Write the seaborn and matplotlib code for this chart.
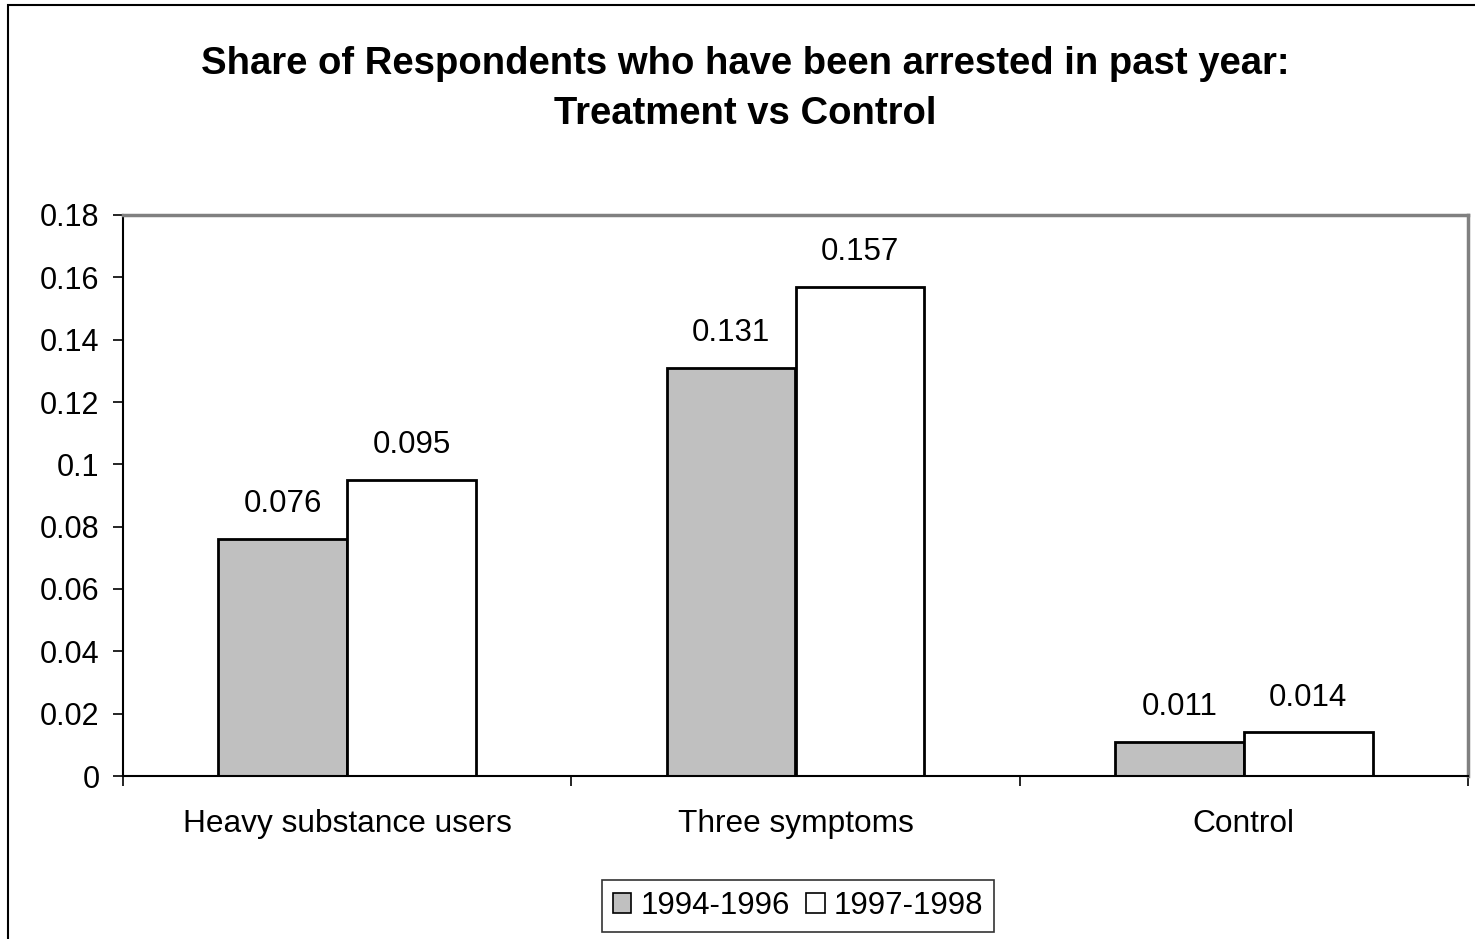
#!/usr/bin/env python3
"""
Bar chart: share of respondents arrested in past year, treatment vs control
"""

import pandas as pd
import matplotlib
matplotlib.use('Agg')
import matplotlib.pyplot as plt
from matplotlib.patches import Rectangle
import seaborn as sns

# Data
groups = ['Heavy substance users', 'Three symptoms', 'Control']
periods = ['1994-1996', '1997-1998']
share_1994_1996 = [0.076, 0.131, 0.011]
share_1997_1998 = [0.095, 0.157, 0.014]
y_ticks = [0, 0.02, 0.04, 0.06, 0.08, 0.1, 0.12, 0.14, 0.16, 0.18]
y_tick_labels = ['0', '0.02', '0.04', '0.06', '0.08', '0.1', '0.12', '0.14', '0.16', '0.18']

W, H = 1475, 939


def build_frame():
    """Long format table for seaborn"""
    rows = []
    for g, a, b in zip(groups, share_1994_1996, share_1997_1998):
        rows.append({'group': g, 'period': periods[0], 'share': a})
        rows.append({'group': g, 'period': periods[1], 'share': b})
    return pd.DataFrame(rows)


def main():
    sns.set_style('white')
    plt.rcParams['font.family'] = ['Liberation Sans', 'DejaVu Sans']
    plt.rcParams['text.color'] = 'black'
    plt.rcParams['xtick.color'] = 'black'
    plt.rcParams['ytick.color'] = 'black'
    plt.rcParams['axes.labelcolor'] = 'black'

    df = build_frame()

    fig = plt.figure(figsize=(W / 100, H / 100), dpi=100)
    fig.patch.set_facecolor('white')

    # outer chart border (right and bottom are cut off in the original)
    fig.patches.append(Rectangle((8 / W, -0.05), 1.2, 1 - 5 / H + 0.05,
                                 transform=fig.transFigure, fill=False,
                                 edgecolor='black', linewidth=1.5))

    ax = fig.add_axes([123 / W, 1 - 776 / H, (1468 - 123) / W, (776 - 215) / H])

    sns.barplot(data=df, x='group', y='share', hue='period', order=groups,
                hue_order=periods, palette=['#C0C0C0', 'white'],
                edgecolor='black', linewidth=2, width=0.575, gap=0,
                errorbar=None, ax=ax)

    # value labels above bars
    for container in ax.containers:
        for bar in container:
            h = bar.get_height()
            ax.annotate(f'{h:.3f}', (bar.get_x() + bar.get_width() / 2, h),
                        xytext=(0, 25), textcoords='offset points',
                        ha='center', va='center', fontsize=22.5, color='black')

    ax.set_ylim(0, 0.18)
    ax.set_xlim(-0.5, 2.5)
    ax.set_yticks(y_ticks)
    ax.set_yticklabels(y_tick_labels, fontsize=22)
    ax.set_xticks(range(len(groups)))
    ax.set_xticklabels(groups, fontsize=22.8)
    ax.set_xticks([-0.5, 0.5, 1.5, 2.5], minor=True)
    ax.tick_params(axis='x', which='major', length=0, pad=23.5)
    ax.tick_params(axis='x', which='minor', length=7, width=1.2, color='black',
                   direction='out', bottom=True)
    ax.tick_params(axis='y', length=7, width=1.2, color='black', pad=10,
                   direction='out', left=True)
    ax.set_xlabel('')
    ax.set_ylabel('')

    for side in ['left', 'bottom']:
        ax.spines[side].set_color('black')
        ax.spines[side].set_linewidth(1.5)
    for side in ['top', 'right']:
        ax.spines[side].set_color('#808080')
        ax.spines[side].set_linewidth(2.5)

    # legend at the bottom
    handles, labels = ax.get_legend_handles_labels()
    ax.legend_.remove()
    leg = fig.legend(handles, labels, loc='center', ncol=2,
                     bbox_to_anchor=(798 / W, 1 - 906 / H), fontsize=22.5,
                     frameon=True, fancybox=False, handlelength=0.6,
                     handleheight=0.6, handletextpad=0.3, columnspacing=0.5,
                     borderpad=0.35)
    leg.get_frame().set_edgecolor('black')
    leg.get_frame().set_linewidth(1.2)
    for patch in leg.get_patches():
        patch.set_linewidth(1.2)
        patch.set_edgecolor('black')

    fig.text(745 / W, 1 - 89 / H,
             'Share of Respondents who have been arrested in past year:\nTreatment vs Control',
             ha='center', va='center', fontsize=27.5, fontweight='bold',
             linespacing=1.48, color='black')

    fig.savefig('out.png', dpi=100)
    plt.close(fig)


if __name__ == '__main__':
    main()
